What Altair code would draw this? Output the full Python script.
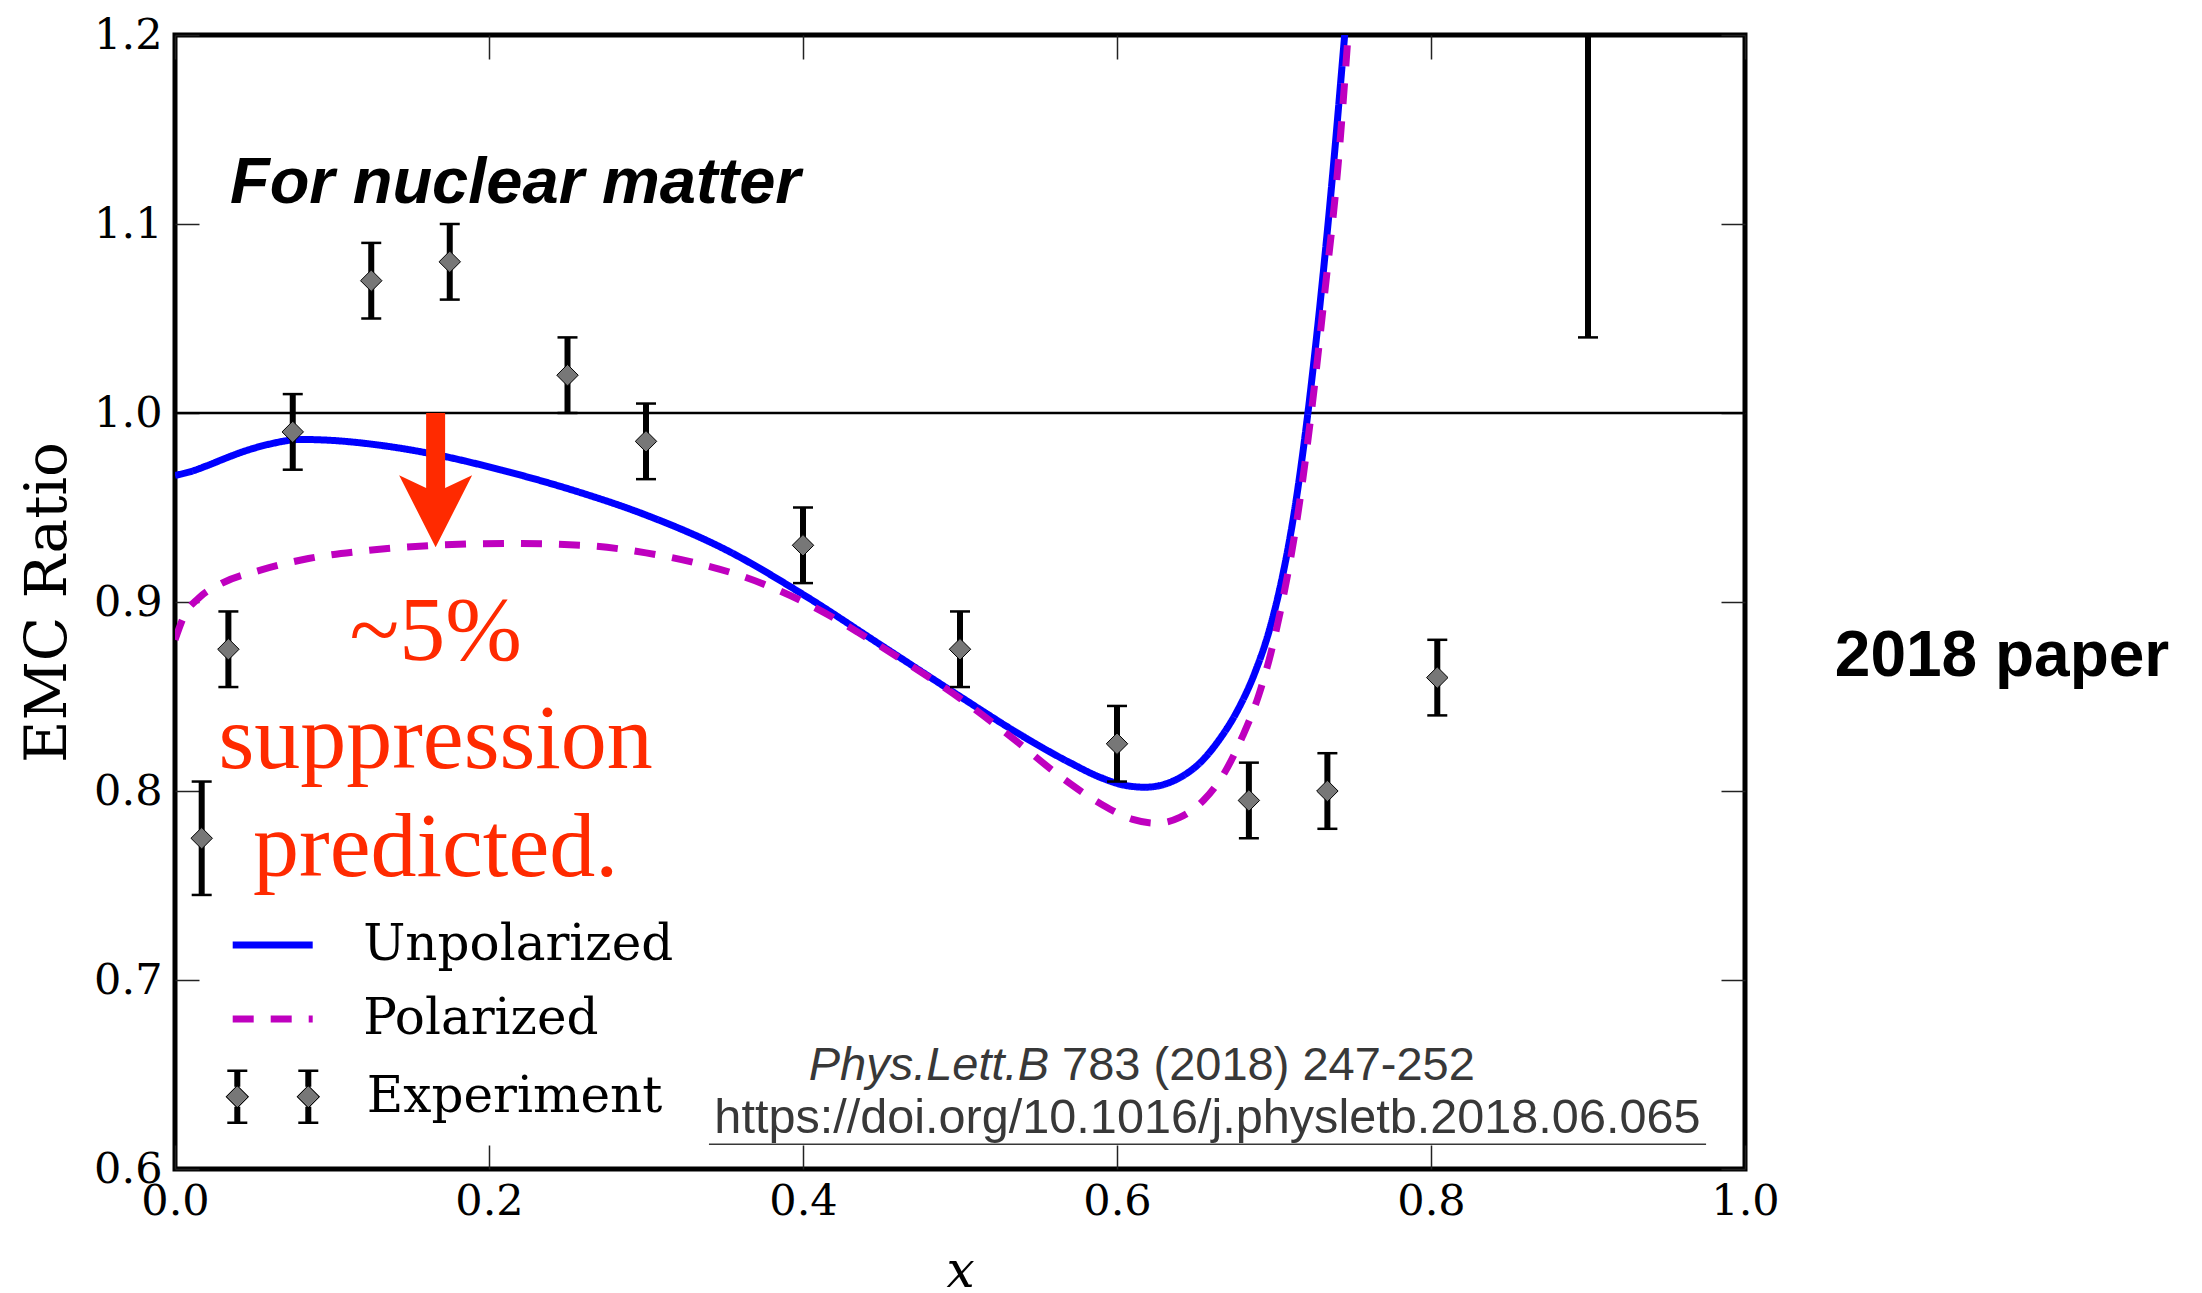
import altair as alt
import pandas as pd

# ---------------- data ----------------
exp_x = [0.017, 0.034, 0.075, 0.125, 0.175, 0.250, 0.300, 0.400, 0.500, 0.600, 0.684, 0.734, 0.804, 0.900]
exp_y = [0.775, 0.875, 0.990, 1.070, 1.080, 1.020, 0.985, 0.930, 0.875, 0.825, 0.795, 0.800, 0.860, 1.240]
exp_err = [0.030, 0.020, 0.020, 0.020, 0.020, 0.020, 0.020, 0.020, 0.020, 0.020, 0.020, 0.020, 0.020, 0.200]

unpol_x = [0.000, 0.010, 0.020, 0.032, 0.045, 0.060, 0.080, 0.100, 0.130, 0.166, 0.207, 0.254,
           0.300, 0.350, 0.400, 0.450, 0.500, 0.540, 0.570, 0.590, 0.605, 0.618, 0.630, 0.642,
           0.653, 0.665, 0.677, 0.688, 0.697, 0.705, 0.713, 0.721, 0.729, 0.737, 0.744, 0.751]
unpol_y = [0.967, 0.969, 0.972, 0.976, 0.980, 0.9835, 0.986, 0.9855, 0.983, 0.978, 0.970, 0.959,
           0.946, 0.928, 0.904, 0.877, 0.850, 0.829, 0.815, 0.807, 0.803, 0.802, 0.8035, 0.808,
           0.815, 0.827, 0.843, 0.863, 0.885, 0.912, 0.948, 0.996, 1.055, 1.123, 1.190, 1.260]

pol_x = [0.000, 0.006, 0.015, 0.030, 0.055, 0.085, 0.120, 0.166, 0.215, 0.260, 0.300, 0.330,
         0.360, 0.385, 0.410, 0.435, 0.460, 0.500, 0.535, 0.565, 0.590, 0.610, 0.625, 0.640,
         0.655, 0.668, 0.680, 0.690, 0.698, 0.706, 0.714, 0.7236, 0.7325, 0.7408, 0.7471, 0.753]
pol_y = [0.880, 0.893, 0.902, 0.910, 0.917, 0.923, 0.927, 0.930, 0.931, 0.930, 0.926, 0.921,
         0.914, 0.906, 0.896, 0.884, 0.871, 0.849, 0.827, 0.807, 0.793, 0.785, 0.783, 0.786,
         0.795, 0.809, 0.829, 0.850, 0.873, 0.903, 0.940, 0.999, 1.065, 1.131, 1.199, 1.270]

series_names = ["Unpolarized", "Polarized"]
series_colors = ["#0000ff", "#bf00bf"]
legend_exp = ["Experiment"]

y_ticks = [0.6, 0.7, 0.8, 0.9, 1.0, 1.1, 1.2]
x_ticks = [0.0, 0.2, 0.4, 0.6, 0.8, 1.0]

ref_line = [1.0]

headline = ["For nuclear matter"]
headline_at = [0.035, 1.111]

note_lines = ["~5%", "suppression", "predicted."]
note_at = [0.166, 0.8693]

arrow_x = [0.166]
arrow_from = [1.0]
arrow_shaft_end = [0.955]
arrow_tip = [0.929]

cite_journal = ["Phys.Lett.B"]
cite_rest = ["783 (2018) 247-252"]
cite_line1_at = [0.5567, 0.6471]
cite_doi = ["https://doi.org/10.1016/j.physletb.2018.06.065"]
cite_doi_at = [0.6576, 0.6190]
cite_underline = [0.3401, 0.9752, 0.6131]

side_label = ["2018 paper"]
side_label_at = [1.1637, 0.871]

# ---------------- styling ----------------
RED = "#ff2a00"
GREY_TXT = "#383838"
SERIF = "DejaVu Serif"

xs = alt.Scale(domain=[0, 1], nice=False, zero=False)
ys = alt.Scale(domain=[0.6, 1.2], nice=False, zero=False)

tick_common = dict(offset=-24, tickSize=24, tickWidth=1.5, tickColor="#222222",
                   domain=False, grid=False)

left_axis = alt.Axis(orient="left", values=y_ticks, format=".1f", labelFont=SERIF,
                     labelFontSize=43, labelColor="black", labelPadding=13, labelFlush=False,
                     title="EMC Ratio", titleFont=SERIF, titleFontSize=58,
                     titleFontWeight="normal", titleColor="black", titlePadding=16,
                     **tick_common)
bottom_axis = alt.Axis(orient="bottom", values=x_ticks, format=".1f", labelFont=SERIF,
                       labelFontSize=43, labelColor="black", labelPadding=11, labelFlush=False,
                       title="x", titleFont=SERIF, titleFontSize=50, titleFontStyle="italic",
                       titleFontWeight="normal", titleColor="black", titlePadding=23,
                       **tick_common)
right_axis = alt.Axis(orient="right", values=y_ticks, labels=False, title=None, **tick_common)
top_axis = alt.Axis(orient="top", values=x_ticks, labels=False, title=None, **tick_common)


def X(field, axis=None):
    return alt.X(field, type="quantitative", scale=xs, axis=axis)


def Y(field, axis=None):
    return alt.Y(field, type="quantitative", scale=ys, axis=axis)


# ---------------- tables ----------------
curves = pd.concat([
    pd.DataFrame({"x": unpol_x, "y": unpol_y, "series": series_names[0]}),
    pd.DataFrame({"x": pol_x, "y": pol_y, "series": series_names[1]}),
], ignore_index=True)

exp = pd.DataFrame({"x": exp_x, "y": exp_y, "err": exp_err})
exp["lo"] = exp["y"] - exp["err"]
exp["hi"] = exp["y"] + exp["err"]


# legend symbols for the experiment entry (two diamonds with error bars),
# built from two filled paths: a black part and a grey diamond core
def _rect(x0, x1, y0, y1):
    return f"M{x0:.3f},{y0:.3f}L{x1:.3f},{y0:.3f}L{x1:.3f},{y1:.3f}L{x0:.3f},{y1:.3f}Z"


def _diamond(cx, r, clockwise=True):
    if clockwise:
        return f"M{cx:.3f},{-r:.3f}L{cx + r:.3f},0L{cx:.3f},{r:.3f}L{cx - r:.3f},0Z"
    return f"M{cx:.3f},{-r:.3f}L{cx - r:.3f},0L{cx:.3f},{r:.3f}L{cx + r:.3f},0Z"


def exp_symbol_black():
    parts = []
    for cx in (-0.71, 0.71):
        parts.append(_rect(cx - 0.06, cx + 0.06, -0.52, -0.20))
        parts.append(_rect(cx - 0.06, cx + 0.06, 0.20, 0.52))
        parts.append(_rect(cx - 0.2, cx + 0.2, -0.545, -0.495))
        parts.append(_rect(cx - 0.2, cx + 0.2, 0.495, 0.545))
        parts.append(_diamond(cx, 0.235, True))
        parts.append(_diamond(cx, 0.20, False))
    return "".join(parts)


def exp_symbol_grey():
    return "".join(_diamond(cx, 0.203, True) for cx in (-0.71, 0.71))


head_path = "M0,0L-1,-1.97L-0.26,-1.62L0.26,-1.62L1,-1.97Z"

color_scale = alt.Scale(domain=series_names, range=series_colors)
dash_scale = alt.Scale(domain=series_names, range=[[1, 0], [21, 17]])
leg_lines = alt.Legend(orient="none", legendX=54.2, legendY=873, title=None,
                       symbolType="stroke", symbolSize=6400, symbolStrokeWidth=7,
                       labelFont=SERIF, labelFontSize=50, labelColor="black",
                       labelOffset=47, labelLimit=0, rowPadding=0, padding=0,
                       clipHeight=74)
leg_exp_common = dict(orient="none", legendX=47.8, legendY=1011.7, title=None,
                      symbolSize=10000, symbolStrokeWidth=0, symbolOpacity=1,
                      labelFont=SERIF, labelFontSize=50, labelColor="black",
                      labelOffset=44, labelLimit=0, padding=0)
leg_exp_black = alt.Legend(symbolFillColor="black", **leg_exp_common)
leg_exp_grey = alt.Legend(symbolFillColor="#777777", labelOpacity=0, **leg_exp_common)

# ---------------- layers ----------------
hline = alt.Chart(pd.DataFrame({"x0": [0.0], "x1": [1.0], "y": ref_line})).mark_rule(
    color="black", strokeWidth=2.5
).encode(x=X("x0", top_axis), x2="x1", y=Y("y", right_axis))

blue = alt.Chart(curves).transform_filter(
    alt.datum.series == series_names[0]
).mark_line(strokeWidth=7, clip=True, interpolate="monotone").encode(
    x=X("x", bottom_axis), y=Y("y", left_axis),
    color=alt.Color("series:N", scale=color_scale, legend=leg_lines),
    strokeDash=alt.StrokeDash("series:N", scale=dash_scale, legend=leg_lines),
)

magenta = alt.Chart(curves).transform_filter(
    alt.datum.series == series_names[1]
).mark_line(strokeWidth=7, clip=True, interpolate="monotone").encode(
    x=X("x"), y=Y("y"),
    color=alt.Color("series:N", scale=color_scale, legend=leg_lines),
    strokeDash=alt.StrokeDash("series:N", scale=dash_scale, legend=leg_lines),
)

bars = alt.Chart(exp).mark_rule(color="black", strokeWidth=6, clip=True).encode(
    x=X("x"), y=Y("lo"), y2="hi"
)

caps = alt.Chart(exp).transform_fold(["lo", "hi"], as_=["end", "v"]).mark_point(
    shape="stroke", size=400, strokeWidth=2.5, color="black", filled=False,
    opacity=1, clip=True
).encode(x=X("x"), y=Y("v:Q"))

diamonds = alt.Chart(exp).mark_point(
    shape="diamond", size=460, filled=True, fill="#777777", stroke="black",
    strokeWidth=1, opacity=1, clip=True
).encode(x=X("x"), y=Y("y"))

legend_black = alt.Chart(pd.DataFrame({"kind": legend_exp})).mark_point(
    filled=True, color="black", strokeWidth=0, opacity=1, size=10000, clip=True
).encode(
    x=alt.value(-5000), y=alt.value(-5000),
    shape=alt.Shape("kind:N", scale=alt.Scale(domain=legend_exp, range=[exp_symbol_black()]),
                    legend=leg_exp_black),
)

legend_grey = alt.Chart(pd.DataFrame({"kind": legend_exp})).mark_point(
    filled=True, color="#777777", strokeWidth=0, opacity=1, size=10000, clip=True
).encode(
    x=alt.value(-5000), y=alt.value(-5000),
    shape=alt.Shape("kind:N", scale=alt.Scale(domain=legend_exp, range=[exp_symbol_grey()]),
                    legend=leg_exp_grey),
)

arrow_df = pd.DataFrame({"x": arrow_x, "y0": arrow_from, "y1": arrow_shaft_end, "tip": arrow_tip})
shaft = alt.Chart(arrow_df).mark_rule(color=RED, strokeWidth=19, strokeCap="butt").encode(
    x=X("x"), y=Y("y0"), y2="y1"
)
head = alt.Chart(arrow_df).mark_point(
    shape=head_path, size=5329, filled=True, color=RED, opacity=1, strokeWidth=0
).encode(x=X("x"), y=Y("tip"))

headline_txt = alt.Chart(pd.DataFrame({"x": [headline_at[0]], "y": [headline_at[1]], "t": headline})).mark_text(
    align="left", baseline="alphabetic", font="Liberation Sans", fontSize=65,
    fontWeight="bold", fontStyle="italic", color="black"
).encode(x=X("x"), y=Y("y"), text="t:N")

note_txt = alt.Chart(pd.DataFrame({"x": [note_at[0]], "y": [note_at[1]], "t": [note_lines]})).mark_text(
    align="center", baseline="alphabetic", font="Liberation Serif", fontSize=92,
    lineHeight=108, color=RED
).encode(x=X("x"), y=Y("y"), text="t")

cite1a = alt.Chart(pd.DataFrame({"x": [cite_line1_at[0]], "y": [cite_line1_at[1]], "t": cite_journal})).mark_text(
    align="right", baseline="alphabetic", font="Liberation Sans", fontSize=47,
    fontStyle="italic", color=GREY_TXT
).encode(x=X("x"), y=Y("y"), text="t:N")

cite1b = alt.Chart(pd.DataFrame({"x": [cite_line1_at[0]], "y": [cite_line1_at[1]], "t": cite_rest})).mark_text(
    align="left", baseline="alphabetic", font="Liberation Sans", fontSize=47,
    dx=13, color=GREY_TXT
).encode(x=X("x"), y=Y("y"), text="t:N")

cite2 = alt.Chart(pd.DataFrame({"x": [cite_doi_at[0]], "y": [cite_doi_at[1]], "t": cite_doi})).mark_text(
    align="center", baseline="alphabetic", font="Liberation Sans", fontSize=48.6,
    color=GREY_TXT
).encode(x=X("x"), y=Y("y"), text="t:N")

underline = alt.Chart(pd.DataFrame({"x0": [cite_underline[0]], "x1": [cite_underline[1]],
                                    "y": [cite_underline[2]]})).mark_rule(
    color=GREY_TXT, strokeWidth=1.6
).encode(x=X("x0"), x2="x1", y=Y("y"))

side_txt = alt.Chart(pd.DataFrame({"x": [side_label_at[0]], "y": [side_label_at[1]], "t": side_label})).mark_text(
    align="center", baseline="middle", font="Liberation Sans", fontSize=64,
    fontWeight="bold", color="black"
).encode(x=X("x"), y=Y("y"), text="t:N")

chart = alt.layer(
    hline, blue, magenta, bars, caps, diamonds, legend_black, legend_grey, shaft, head,
    headline_txt, note_txt, cite1a, cite1b, cite2, underline, side_txt
).resolve_axis(
    x="independent", y="independent"
).resolve_scale(
    shape="independent"
).properties(
    width=1570, height=1134,
    autosize=alt.AutoSizeParams(type="none"),
    padding={"left": 175, "top": 35, "right": 457, "bottom": 124},
    background="white",
).configure_view(
    stroke="black", strokeWidth=5, fill="white"
)

chart.save("out.html", embed_options={"renderer": "svg", "actions": False})
